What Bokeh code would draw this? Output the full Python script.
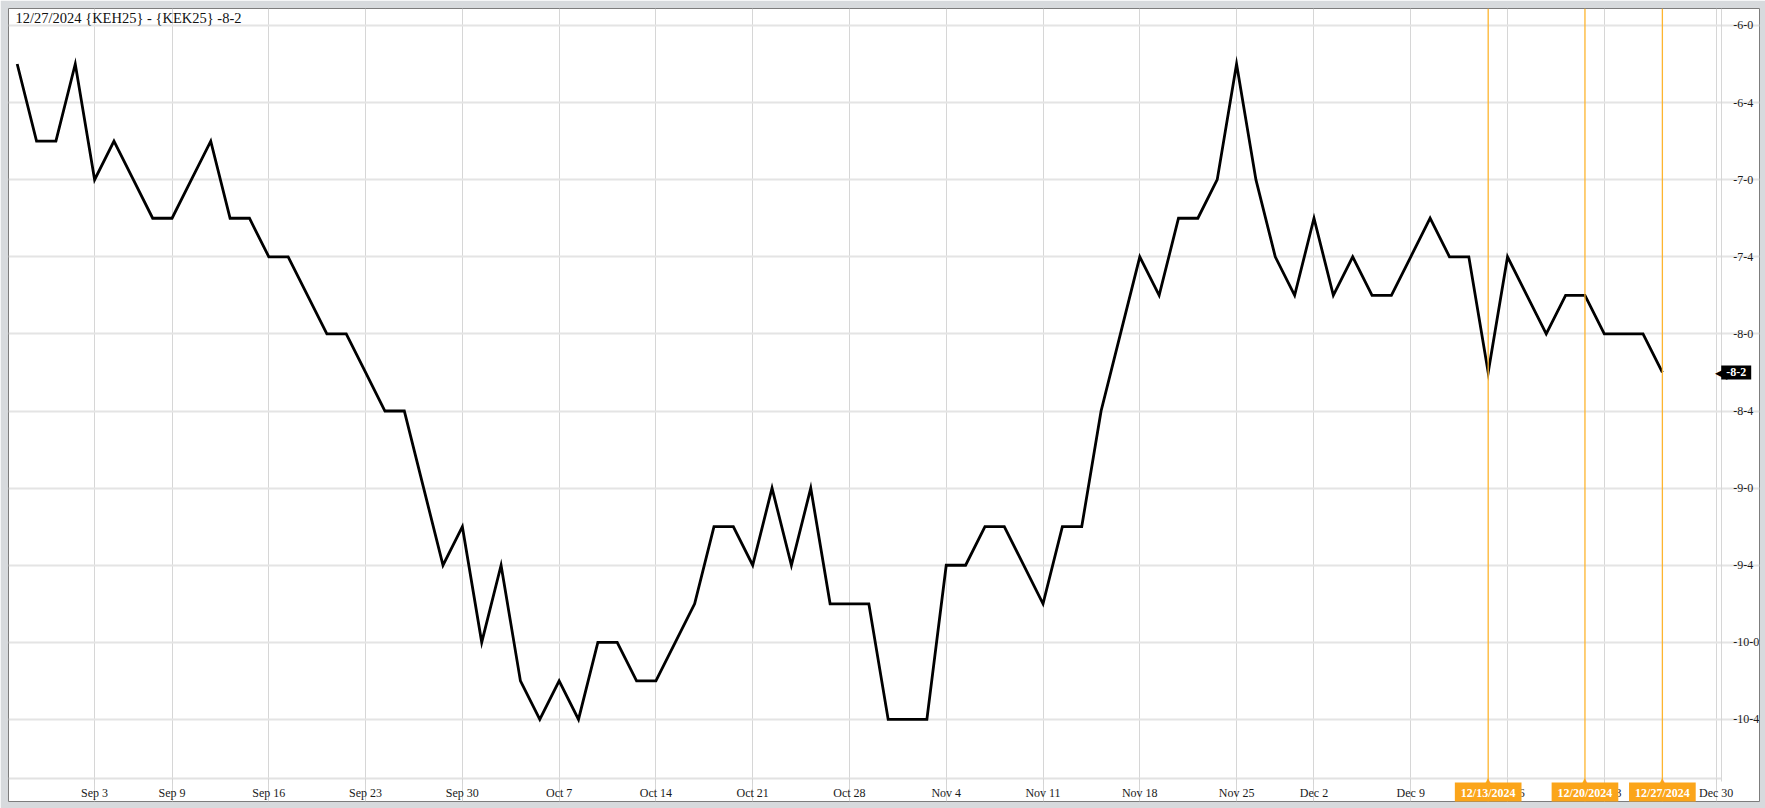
from bokeh.plotting import figure
from bokeh.models import ColumnDataSource, FixedTicker, Range1d, Span, Label
from bokeh.embed import file_html
from bokeh.resources import INLINE

# ---------------- data ----------------
DATES = [
    "2024-08-27", "2024-08-28", "2024-08-29", "2024-08-30",
    "2024-09-03", "2024-09-04", "2024-09-05", "2024-09-06",
    "2024-09-09", "2024-09-10", "2024-09-11", "2024-09-12", "2024-09-13",
    "2024-09-16", "2024-09-17", "2024-09-18", "2024-09-19", "2024-09-20",
    "2024-09-23", "2024-09-24", "2024-09-25", "2024-09-26", "2024-09-27",
    "2024-09-30", "2024-10-01", "2024-10-02", "2024-10-03", "2024-10-04",
    "2024-10-07", "2024-10-08", "2024-10-09", "2024-10-10", "2024-10-11",
    "2024-10-14", "2024-10-15", "2024-10-16", "2024-10-17", "2024-10-18",
    "2024-10-21", "2024-10-22", "2024-10-23", "2024-10-24", "2024-10-25",
    "2024-10-28", "2024-10-29", "2024-10-30", "2024-10-31", "2024-11-01",
    "2024-11-04", "2024-11-05", "2024-11-06", "2024-11-07", "2024-11-08",
    "2024-11-11", "2024-11-12", "2024-11-13", "2024-11-14", "2024-11-15",
    "2024-11-18", "2024-11-19", "2024-11-20", "2024-11-21", "2024-11-22",
    "2024-11-25", "2024-11-26", "2024-11-27", "2024-11-29",
    "2024-12-02", "2024-12-03", "2024-12-04", "2024-12-05", "2024-12-06",
    "2024-12-09", "2024-12-10", "2024-12-11", "2024-12-12", "2024-12-13",
    "2024-12-16", "2024-12-17", "2024-12-18", "2024-12-19", "2024-12-20",
    "2024-12-23", "2024-12-24", "2024-12-26", "2024-12-27",
]

# spread in cents (eighths): -6-2 = -6.25, -6-6 = -6.75 ...
VALUES = [
    -6.25, -6.75, -6.75, -6.25,
    -7.0, -6.75, -7.0, -7.25,
    -7.25, -7.0, -6.75, -7.25, -7.25,
    -7.5, -7.5, -7.75, -8.0, -8.0,
    -8.25, -8.5, -8.5, -9.0, -9.5,
    -9.25, -10.0, -9.5, -10.25, -10.5,
    -10.25, -10.5, -10.0, -10.0, -10.25,
    -10.25, -10.0, -9.75, -9.25, -9.25,
    -9.5, -9.0, -9.5, -9.0, -9.75,
    -9.75, -9.75, -10.5, -10.5, -10.5,
    -9.5, -9.5, -9.25, -9.25, -9.5,
    -9.75, -9.25, -9.25, -8.5, -8.0,
    -7.5, -7.75, -7.25, -7.25, -7.0,
    -6.25, -7.0, -7.5, -7.75,
    -7.25, -7.75, -7.5, -7.75, -7.75,
    -7.5, -7.25, -7.5, -7.5, -8.25,
    -7.5, -7.75, -8.0, -7.75, -7.75,
    -8.0, -8.0, -8.0, -8.25,
]

Y_TICKS = [-6.0, -6.5, -7.0, -7.5, -8.0, -8.5, -9.0, -9.5, -10.0, -10.5]
Y_TICK_LABELS = ["-6-0", "-6-4", "-7-0", "-7-4", "-8-0", "-8-4",
                 "-9-0", "-9-4", "-10-0", "-10-4"]

X_TICK_DATES = ["2024-09-03", "2024-09-09", "2024-09-16", "2024-09-23",
                "2024-09-30", "2024-10-07", "2024-10-14", "2024-10-21",
                "2024-10-28", "2024-11-04", "2024-11-11", "2024-11-18",
                "2024-11-25", "2024-12-02", "2024-12-09", "2024-12-16",
                "2024-12-23"]
X_TICK_LABELS = ["Sep 3", "Sep 9", "Sep 16", "Sep 23", "Sep 30", "Oct 7",
                 "Oct 14", "Oct 21", "Oct 28", "Nov 4", "Nov 11", "Nov 18",
                 "Nov 25", "Dec 2", "Dec 9", "Dec 16", "Dec 23"]
EDGE_TICK_LABEL = "Dec 30"

MARKER_DATES = ["2024-12-13", "2024-12-20", "2024-12-27"]
MARKER_LABELS = ["12/13/2024", "12/20/2024", "12/27/2024"]

TITLE = "12/27/2024 {KEH25} - {KEK25} -8-2"
LAST_LABEL = "-8-2"

# ---------------- layout ----------------
W, H = 1765, 808
X_START, X_END = -0.4495, 90.018
Y_START, Y_END = -11.032, -5.890
Y_AXIS_AT = 88.04          # x where the right-hand price axis sits
X_AXIS_AT = -10.883        # y where the date axis sits
EDGE_TICK_AT = 87.78       # "Dec 30" tick, just inside the price axis
FONT = "Liberation Serif"
ORANGE = "#FBA51A"
ORANGE_LINE = "#FDB52F"
TEXT = "#1a1a1a"

src = ColumnDataSource(data=dict(x=list(range(len(DATES))), y=VALUES))

p = figure(width=W, height=H, output_backend="svg", toolbar_location=None,
           x_range=Range1d(X_START, X_END), y_range=Range1d(Y_START, Y_END),
           y_axis_location="right",
           min_border_left=8, min_border_top=8,
           min_border_right=6, min_border_bottom=7)
p.outline_line_color = "#7d7d7d"
p.outline_line_width = 1
p.background_fill_color = "white"
p.border_fill_color = "#d7dadd"

# x axis (drawn inside the frame, at a fixed location)
x_pos = [DATES.index(d) for d in X_TICK_DATES]
xt = FixedTicker(ticks=x_pos + [EDGE_TICK_AT])
xa = p.xaxis[0]
xa.fixed_location = X_AXIS_AT
xa.bounds = (X_START, Y_AXIS_AT)
xa.ticker = xt
overrides = {pos: lab for pos, lab in zip(x_pos, X_TICK_LABELS)}
overrides[EDGE_TICK_AT] = EDGE_TICK_LABEL
xa.major_label_overrides = overrides
xa.axis_line_color = "#e2e2e2"
xa.axis_line_width = 2
xa.major_tick_in = 0
xa.major_tick_out = 5
xa.major_tick_line_color = "#d3d3d3"
xa.minor_tick_line_color = None
xa.major_label_standoff = 2
xa.major_label_text_font = FONT
xa.major_label_text_font_size = "12px"
xa.major_label_text_color = TEXT

# y axis (right side, fixed location)
yt = FixedTicker(ticks=Y_TICKS)
ya = p.yaxis[0]
ya.fixed_location = Y_AXIS_AT
ya.bounds = (X_AXIS_AT - 0.02, Y_END)
ya.ticker = yt
ya.major_label_overrides = {v: lab for v, lab in zip(Y_TICKS, Y_TICK_LABELS)}
ya.axis_line_color = "#d6d6d6"
ya.axis_line_width = 1
ya.major_tick_line_color = None
ya.minor_tick_line_color = None
ya.major_label_standoff = 6
ya.major_label_text_font = FONT
ya.major_label_text_font_size = "12px"
ya.major_label_text_color = TEXT

# grids
p.xgrid.ticker = xt
p.ygrid.ticker = yt
p.xgrid.bounds = (X_AXIS_AT, Y_END)
p.ygrid.bounds = (X_START, EDGE_TICK_AT)
p.xgrid.grid_line_color = "#d6d6d6"
p.xgrid.grid_line_width = 1
p.ygrid.grid_line_color = "#e4e4e4"
p.ygrid.grid_line_width = 2

# series
p.line("x", "y", source=src, line_color="black", line_width=2.8,
       line_join="miter")

# orange date markers with tags on the date axis
for d, lab in zip(MARKER_DATES, MARKER_LABELS):
    i = DATES.index(d)
    p.add_layout(Span(location=i, dimension="height", line_color=ORANGE_LINE,
                      line_width=1.3))
    p.add_layout(Label(x=i, y=X_AXIS_AT, y_offset=-2, text="\u25B2",
                       text_align="center", text_baseline="middle",
                       text_color=ORANGE, text_font="DejaVu Sans",
                       text_font_size="9px"))
    p.add_layout(Label(x=i, y=X_AXIS_AT, y_offset=-4, text=lab,
                       text_align="center", text_baseline="top",
                       text_color="white", text_font=FONT,
                       text_font_size="12px", text_font_style="bold",
                       background_fill_color=ORANGE,
                       padding=dict(left=6, right=6, top=3, bottom=3)))

# last value tag on the price axis
p.add_layout(Label(x=Y_AXIS_AT, x_offset=6, y=VALUES[-1], text="\u25C0",
                   text_align="right", text_baseline="middle",
                   text_color="black", text_font="DejaVu Sans",
                   text_font_size="16px"))
p.add_layout(Label(x=Y_AXIS_AT, x_offset=0, y=VALUES[-1], text=LAST_LABEL,
                   text_align="left", text_baseline="middle",
                   text_color="white", text_font=FONT,
                   text_font_size="12px", text_font_style="bold",
                   background_fill_color="black",
                   padding=dict(left=5, right=5, top=3, bottom=3)))

# title inside the plot
p.add_layout(Label(x=X_START, y=Y_END, x_offset=7, y_offset=-1.5, text=TITLE,
                   text_align="left", text_baseline="top",
                   text_color="#111111", text_font=FONT,
                   text_font_size="14.5px"))

open("out.html", "w").write(file_html(p, INLINE))
